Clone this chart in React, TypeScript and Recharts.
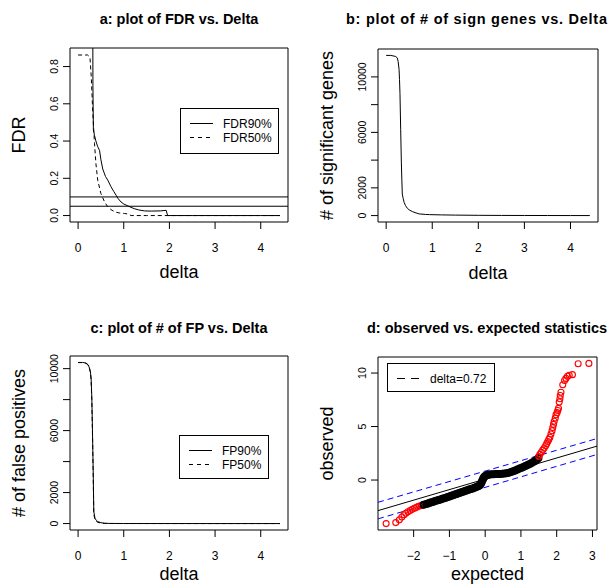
import React from 'react'
import {
  LineChart, Line, ComposedChart, Scatter, XAxis, YAxis,
  ReferenceLine, ReferenceArea, Label,
} from 'recharts'

const FONT = '"Liberation Sans", Arial, Helvetica, sans-serif'

// ---- a: FDR vs delta
const fdr90Delta = [0, 0.25, 0.3, 0.32, 0.325, 0.335, 0.36, 0.39, 0.43, 0.47, 0.5, 0.54, 0.6, 0.65, 0.72, 0.78, 0.83, 0.88, 0.94, 1.0, 1.09, 1.16, 1.23, 1.33, 1.45, 1.6, 1.8, 1.93, 1.96, 2.5, 3.0, 3.5, 4.0, 4.42]
const fdr90 = [1.3, 1.3, 1.3, 1.3, 0.7, 0.46, 0.43, 0.4, 0.37, 0.35, 0.3, 0.25, 0.21, 0.19, 0.155, 0.13, 0.11, 0.09, 0.073, 0.062, 0.052, 0.044, 0.037, 0.03, 0.025, 0.024, 0.025, 0.028, 0, 0, 0, 0, 0, 0]
const fdr50Delta = [0, 0.21, 0.26, 0.29, 0.32, 0.36, 0.39, 0.43, 0.5, 0.58, 0.65, 0.72, 0.8, 0.9, 1.02, 1.1, 1.16, 1.5, 2, 3, 4, 4.42]
const fdr50 = [0.862, 0.862, 0.85, 0.74, 0.56, 0.386, 0.28, 0.19, 0.118, 0.073, 0.047, 0.032, 0.02, 0.014, 0.011, 0.008, 0, 0, 0, 0, 0, 0]
const fdrCutoffs = [0.1, 0.05]
const fdrTicks = [0, 0.2, 0.4, 0.6, 0.8]
const deltaTicks = [0, 1, 2, 3, 4]

// ---- b: # significant genes vs delta
const sigDelta = [0, 0.1, 0.2, 0.24, 0.26, 0.28, 0.29, 0.3, 0.315, 0.33, 0.34, 0.35, 0.37, 0.39, 0.42, 0.46, 0.5, 0.57, 0.65, 0.72, 0.85, 0.94, 1.2, 1.5, 2.0, 2.5, 3.0, 3.5, 4.0, 4.42]
const sigGenes = [11550, 11550, 11480, 11380, 11120, 10550, 9800, 8800, 6220, 3800, 2630, 1555, 1220, 955, 720, 525, 410, 287, 190, 120, 85, 70, 50, 35, 20, 12, 8, 5, 3, 2]

// ---- c: # false positives vs delta
const fpDelta = [0, 0.1, 0.175, 0.22, 0.25, 0.27, 0.285, 0.3, 0.31, 0.33, 0.344, 0.37, 0.4, 0.43, 0.5, 0.58, 0.7, 1.0, 2, 3, 4, 4.42]
const fp90 = [10400, 10400, 10360, 10250, 10040, 9800, 9390, 8200, 6810, 3570, 775, 340, 200, 130, 55, 20, 8, 3, 1, 0, 0, 0]
const fp50 = [10390, 10390, 10340, 10220, 9990, 9720, 9280, 8000, 6600, 3300, 600, 260, 140, 80, 30, 10, 4, 1, 0, 0, 0, 0]
const countTicks = [0, 2000, 4000, 6000, 8000, 10000]
const countLabels = [0, 2000, 6000, 10000]

// ---- d: observed vs expected
const lowExpected = [-2.77, -2.5, -2.4, -2.33, -2.27, -2.22, -2.16, -2.1, -2.04, -1.98, -1.93, -1.88, -1.83, -1.78, -1.74]
const lowObserved = [-4.07, -3.98, -3.72, -3.45, -3.25, -3.1, -2.97, -2.85, -2.74, -2.64, -2.56, -2.48, -2.42, -2.37, -2.33]
const midExpected = [-1.72, -1.65, -1.6, -1.55, -1.5, -1.45, -1.4, -1.35, -1.3, -1.25, -1.2, -1.15, -1.1, -1.05, -1.0, -0.95, -0.9, -0.85, -0.8, -0.75, -0.7, -0.65, -0.6, -0.55, -0.5, -0.45, -0.4, -0.35, -0.3, -0.25, -0.2, -0.16, -0.13, -0.11, -0.09, -0.07, -0.05, -0.03, 0.0, 0.04, 0.08, 0.13, 0.18, 0.24, 0.3, 0.36, 0.42, 0.48, 0.54, 0.6, 0.66, 0.72, 0.78, 0.84, 0.9, 0.96, 1.02, 1.08, 1.14, 1.2, 1.26, 1.32, 1.38, 1.44, 1.49]
const midObserved = [-2.32, -2.25, -2.19, -2.13, -2.08, -2.02, -1.96, -1.91, -1.86, -1.81, -1.76, -1.7, -1.65, -1.59, -1.54, -1.48, -1.42, -1.36, -1.3, -1.24, -1.18, -1.12, -1.06, -1.01, -0.95, -0.89, -0.84, -0.78, -0.72, -0.66, -0.58, -0.5, -0.4, -0.28, -0.14, 0.02, 0.16, 0.28, 0.38, 0.45, 0.49, 0.52, 0.54, 0.55, 0.56, 0.56, 0.57, 0.58, 0.6, 0.63, 0.68, 0.74, 0.82, 0.9, 0.99, 1.07, 1.16, 1.25, 1.34, 1.43, 1.53, 1.64, 1.76, 1.9, 2.05]
const highExpected = [1.5, 1.53, 1.57, 1.61, 1.65, 1.69, 1.72, 1.75, 1.78, 1.81, 1.84, 1.87, 1.89, 1.91, 1.93, 1.96, 1.98, 2.01, 2.03, 2.05, 2.07, 2.09, 2.1, 2.12, 2.17, 2.22, 2.26, 2.3, 2.35, 2.44, 2.6, 2.9]
const highObserved = [2.2, 2.4, 2.6, 2.8, 3.0, 3.2, 3.4, 3.6, 3.8, 4.0, 4.3, 4.6, 4.9, 5.2, 5.5, 5.8, 6.1, 6.3, 6.5, 6.7, 7.3, 7.6, 7.9, 8.2, 8.9, 9.3, 9.5, 9.7, 9.8, 9.85, 10.87, 10.9]
const diagEnds = { expected: [-2.997, 3.127], observed: [-2.86, 3.17] }
const upperEnds = { expected: [-2.997, 3.127], observed: [-2.08, 3.88] }
const lowerEnds = { expected: [-2.997, 3.127], observed: [-3.63, 2.39] }
const expTicks = [-2, -1, 0, 1, 2, 3]
const obsTicks = [0, 5, 10]

const rows = (xs: number[], ys: number[], kx: string, ky: string) =>
  xs.map((x, i) => ({ [kx]: x, [ky]: ys[i] }))

const minus = (v: number) => (v < 0 ? `\u2212${-v}` : `${v}`)

const XTick = (fmt?: (v: number) => string) => (p: any) => (
  <text x={p.x} y={p.y + 20.5} textAnchor="middle" fontSize={12} fontFamily={FONT} fill="#000">
    {fmt ? fmt(p.payload.value) : p.payload.value}
  </text>
)

const YTick = (labels: number[] | null, fmt?: (v: number) => string) => (p: any) => {
  const v = p.payload.value
  if (labels && !labels.includes(v)) return <g />
  const x = p.x - 3
  return (
    <text x={x} y={p.y} transform={`rotate(-90 ${x} ${p.y})`} textAnchor="middle"
      fontSize={10.5} fontFamily={FONT} fill="#000">
      {fmt ? fmt(v) : v}
    </text>
  )
}

const xTitle = (text: string, off: number) => (
  <Label content={({ viewBox }: any) => (
    <text x={viewBox.x + viewBox.width / 2} y={viewBox.y + off} textAnchor="middle"
      fontSize={18} fontFamily={FONT} fill="#000">{text}</text>
  )} />
)

const yTitle = (text: string) => (
  <Label content={({ viewBox }: any) => {
    const x = viewBox.x + viewBox.width - 45
    const y = viewBox.y + viewBox.height / 2
    return (
      <text x={x} y={y} transform={`rotate(-90 ${x} ${y})`} textAnchor="middle"
        fontSize={18} fontFamily={FONT} fill="#000">{text}</text>
    )
  }} />
)

const LegendBox = ({ left, top, width, height, items }: any) => (
  <svg style={{ position: 'absolute', left, top }} width={width + 1} height={height + 1}>
    <rect x={0.5} y={0.5} width={width} height={height} fill="#fff" stroke="#000" />
    {items.map((it: any, i: number) => (
      <g key={it.label}>
        <line x1={10} x2={33} y1={15.5 + i * 14} y2={15.5 + i * 14} stroke="#000" strokeDasharray={it.dash} />
        <text x={43} y={19.8 + i * 14} fontSize={12} fontFamily={FONT} fill="#000">{it.label}</text>
      </g>
    ))}
  </svg>
)

const TITLES = [
  { text: 'a: plot of FDR vs. Delta', x: 179, y: 24, anchor: 'middle' },
  { text: 'b: plot of # of sign genes vs. Delta', x: 346, y: 24, anchor: 'start', len: 261 },
  { text: 'c: plot of # of FP vs. Delta', x: 179, y: 333, anchor: 'middle' },
  { text: 'd: observed vs. expected statistics', x: 487, y: 333, anchor: 'middle' },
]

const box = { fill: 'none', stroke: '#000', strokeWidth: 1, fillOpacity: 1 }

export default function App() {
  const dX = [-0.177, 4.597]
  const aY = [-0.0346, 0.8996]
  const bY = [-462, 12012]
  const cY = [-416, 10816]
  const eX = [-2.997, 3.127]
  const oY = [-4.67, 11.5]

  return (
    <div style={{ position: 'absolute', left: 0, top: 0, width: 609, height: 587, background: '#fff', overflow: 'hidden', fontFamily: FONT }}>
      {/* a */}
      <div style={{ position: 'absolute', left: 0, top: 0 }}>
        <LineChart width={305} height={294} margin={{ top: 48, right: 17, bottom: 0, left: 0 }}>
          <XAxis type="number" dataKey="delta" domain={dX} ticks={deltaTicks} allowDataOverflow height={72}
            axisLine={false} stroke="#000" tickSize={7} tick={XTick()} label={xTitle('delta', 56)} />
          <YAxis type="number" dataKey="fdr" domain={aY} ticks={fdrTicks} allowDataOverflow width={70}
            axisLine={false} stroke="#000" tickSize={7} tick={YTick(null, (v) => v.toFixed(1))} label={yTitle('FDR')} />
          <ReferenceArea x1={dX[0]} x2={dX[1]} y1={aY[0]} y2={aY[1]} {...box} ifOverflow="visible" />
          {fdrCutoffs.map((c) => <ReferenceLine key={c} y={c} stroke="#000" />)}
          <Line data={rows(fdr90Delta, fdr90, 'delta', 'fdr')} dataKey="fdr" type="linear" stroke="#000"
            strokeWidth={1} dot={false} isAnimationActive={false} />
          <Line data={rows(fdr50Delta, fdr50, 'delta', 'fdr')} dataKey="fdr" type="linear" stroke="#000"
            strokeWidth={1} strokeDasharray="4 3" dot={false} isAnimationActive={false} />
        </LineChart>
      </div>

      {/* b */}
      <div style={{ position: 'absolute', left: 305, top: 0 }}>
        <LineChart width={304} height={294} margin={{ top: 49, right: 11, bottom: 0, left: 0 }}>
          <XAxis type="number" dataKey="delta" domain={dX} ticks={deltaTicks} allowDataOverflow height={72}
            axisLine={false} stroke="#000" tickSize={7} tick={XTick()} label={xTitle('delta', 57)} />
          <YAxis type="number" dataKey="n" domain={bY} ticks={countTicks} allowDataOverflow width={73}
            axisLine={false} stroke="#000" tickSize={7} tick={YTick(countLabels)} label={yTitle('# of significant genes')} />
          <ReferenceArea x1={dX[0]} x2={dX[1]} y1={bY[0]} y2={bY[1]} {...box} ifOverflow="visible" />
          <Line data={rows(sigDelta, sigGenes, 'delta', 'n')} dataKey="n" type="linear" stroke="#000"
            strokeWidth={1} dot={false} isAnimationActive={false} />
        </LineChart>
      </div>

      {/* c */}
      <div style={{ position: 'absolute', left: 0, top: 294 }}>
        <LineChart width={305} height={293} margin={{ top: 62, right: 17, bottom: 0, left: 0 }}>
          <XAxis type="number" dataKey="delta" domain={dX} ticks={deltaTicks} allowDataOverflow height={57}
            axisLine={false} stroke="#000" tickSize={7} tick={XTick()} label={xTitle('delta', 50)} />
          <YAxis type="number" dataKey="fp" domain={cY} ticks={countTicks} allowDataOverflow width={70}
            axisLine={false} stroke="#000" tickSize={7} tick={YTick(countLabels)} label={yTitle('# of false positives')} />
          <ReferenceArea x1={dX[0]} x2={dX[1]} y1={cY[0]} y2={cY[1]} {...box} ifOverflow="visible" />
          <Line data={rows(fpDelta, fp90, 'delta', 'fp')} dataKey="fp" type="linear" stroke="#000"
            strokeWidth={1} dot={false} isAnimationActive={false} />
          <Line data={rows(fpDelta, fp50, 'delta', 'fp')} dataKey="fp" type="linear" stroke="#000"
            strokeWidth={1} strokeDasharray="4 3" dot={false} isAnimationActive={false} />
        </LineChart>
      </div>

      {/* d */}
      <div style={{ position: 'absolute', left: 305, top: 294 }}>
        <ComposedChart width={304} height={293} margin={{ top: 63, right: 12, bottom: 0, left: 0 }}>
          <XAxis type="number" dataKey="e" domain={eX} ticks={expTicks} allowDataOverflow height={57}
            axisLine={false} stroke="#000" tickSize={7} tick={XTick(minus)} label={xTitle('expected', 50)} />
          <YAxis type="number" dataKey="o" domain={oY} ticks={obsTicks} allowDataOverflow width={73}
            axisLine={false} stroke="#000" tickSize={7} tick={YTick(null)} label={yTitle('observed')} />
          <ReferenceArea x1={eX[0]} x2={eX[1]} y1={oY[0]} y2={oY[1]} {...box} ifOverflow="visible" />
          <Scatter data={rows(lowExpected, lowObserved, 'e', 'o')} isAnimationActive={false}
            shape={(p: any) => <circle cx={p.cx} cy={p.cy} r={3} fill="none" stroke="#f00" strokeWidth={1.1} />} />
          <Scatter data={rows(midExpected, midObserved, 'e', 'o')} isAnimationActive={false}
            shape={(p: any) => <circle cx={p.cx} cy={p.cy} r={3} fill="none" stroke="#000" strokeWidth={2} />} />
          <Scatter data={rows(highExpected, highObserved, 'e', 'o')} isAnimationActive={false}
            shape={(p: any) => <circle cx={p.cx} cy={p.cy} r={3} fill="none" stroke="#f00" strokeWidth={1.1} />} />
          <ReferenceLine ifOverflow="hidden" stroke="#000"
            segment={[{ x: diagEnds.expected[0], y: diagEnds.observed[0] }, { x: diagEnds.expected[1], y: diagEnds.observed[1] }]} />
          <ReferenceLine ifOverflow="hidden" stroke="#00f" strokeDasharray="6 4"
            segment={[{ x: upperEnds.expected[0], y: upperEnds.observed[0] }, { x: upperEnds.expected[1], y: upperEnds.observed[1] }]} />
          <ReferenceLine ifOverflow="hidden" stroke="#00f" strokeDasharray="6 4"
            segment={[{ x: lowerEnds.expected[0], y: lowerEnds.observed[0] }, { x: lowerEnds.expected[1], y: lowerEnds.observed[1] }]} />
        </ComposedChart>
      </div>

      <LegendBox left={180} top={108} width={98} height={45}
        items={[{ label: 'FDR90%' }, { label: 'FDR50%', dash: '4 4' }]} />
      <LegendBox left={179} top={435} width={89} height={43}
        items={[{ label: 'FP90%' }, { label: 'FP50%', dash: '4 4' }]} />
      <LegendBox left={387} top={363} width={107} height={28}
        items={[{ label: 'delta=0.72', dash: '8 6' }]} />

      <svg style={{ position: 'absolute', left: 0, top: 0, pointerEvents: 'none' }} width={609} height={587}>
        {TITLES.map((t) => (
          <text key={t.text} x={t.x} y={t.y} textAnchor={t.anchor} fontSize={14.5} fontWeight="bold"
            fontFamily={FONT} fill="#000" textLength={t.len} lengthAdjust={t.len ? 'spacing' : undefined}>{t.text}</text>
        ))}
      </svg>
    </div>
  )
}
